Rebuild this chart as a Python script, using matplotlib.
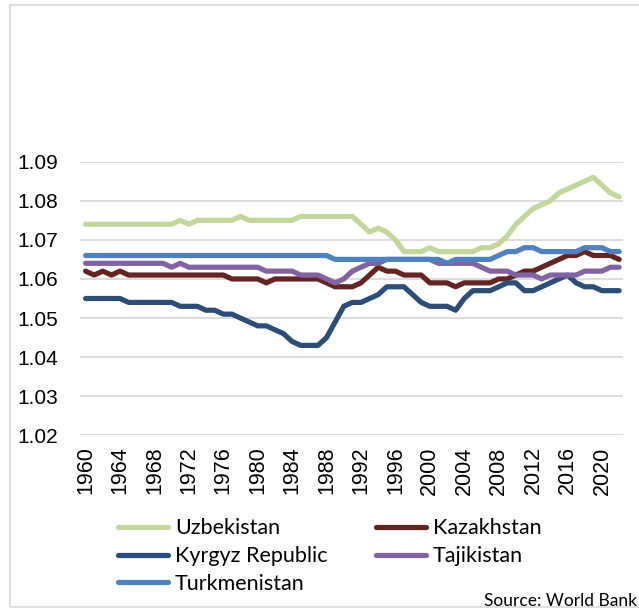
import matplotlib
matplotlib.use("Agg")
import matplotlib.pyplot as plt
from matplotlib.patches import Rectangle
import numpy as np

# 数据 (World Bank, 1960-2022)
years = np.arange(1960, 2023)

uzbekistan = ([1.074] * 11 + [1.075, 1.074] + [1.075] * 5 + [1.076] + [1.075] * 6 + [1.076] * 7 + [1.074]
              + [1.072, 1.073, 1.072, 1.070, 1.067, 1.067, 1.067, 1.068, 1.067, 1.067,
                 1.067, 1.067, 1.067, 1.068, 1.068, 1.069, 1.071, 1.074, 1.076, 1.078,
                 1.079, 1.080, 1.082, 1.083, 1.084, 1.085, 1.086, 1.084, 1.082, 1.081])

kazakhstan = ([1.062, 1.061, 1.062, 1.061, 1.062] + [1.061] * 12 + [1.060] * 4 + [1.059] + [1.060] * 6
              + [1.059] + [1.058] * 3 + [1.059]
              + [1.061, 1.063, 1.062, 1.062, 1.061, 1.061, 1.061]
              + [1.059, 1.059, 1.059, 1.058] + [1.059] * 4
              + [1.060, 1.060, 1.061, 1.062, 1.062]
              + [1.063, 1.064, 1.065, 1.066, 1.066, 1.067, 1.066, 1.066, 1.066, 1.065])

kyrgyz = ([1.055] * 5 + [1.054] * 6 + [1.053] * 3 + [1.052] * 2 + [1.051] * 2
          + [1.050, 1.049, 1.048, 1.048, 1.047, 1.046, 1.044] + [1.043] * 3
          + [1.045, 1.049, 1.053, 1.054, 1.054, 1.055, 1.056, 1.058, 1.058, 1.058]
          + [1.056, 1.054, 1.053, 1.053, 1.053, 1.052]
          + [1.055, 1.057, 1.057, 1.057, 1.058, 1.059, 1.059, 1.057, 1.057]
          + [1.058, 1.059, 1.060, 1.061, 1.059, 1.058, 1.058, 1.057, 1.057, 1.057])

tajikistan = ([1.064] * 10 + [1.063, 1.064] + [1.063] * 9 + [1.062] * 4 + [1.061] * 3
              + [1.060, 1.059, 1.060, 1.062, 1.063, 1.064, 1.064] + [1.065] * 6 + [1.064] * 5
              + [1.063] + [1.062] * 3 + [1.061] * 3 + [1.060] + [1.061] * 4 + [1.062] * 3 + [1.063] * 2)

turkmenistan = ([1.066] * 29 + [1.065] * 13 + [1.064] + [1.065] * 5
                + [1.066, 1.067, 1.067, 1.068, 1.068, 1.067, 1.067, 1.067, 1.067, 1.067,
                   1.068, 1.068, 1.068, 1.067, 1.067])

series = [
    ("Uzbekistan", uzbekistan, "#C3D69B"),
    ("Kazakhstan", kazakhstan, "#632523"),
    ("Kyrgyz Republic", kyrgyz, "#2C4D75"),
    ("Tajikistan", tajikistan, "#8064A2"),
    ("Turkmenistan", turkmenistan, "#4F81BD"),
]

W, H = 639, 613
fig = plt.figure(figsize=(W / 100, H / 100), dpi=100)

# 外框
fig.patches.append(Rectangle((10 / W, 1 - 607 / H), 1.0, (607 - 5) / H,
                             transform=fig.transFigure, fill=False,
                             edgecolor="#D9D9D9", linewidth=1.2))

ax = fig.add_axes([80 / W, 1 - 435.3 / H, 543 / W, (435.3 - 161.7) / H])

lines = {}
for name, vals, color in series:
    (ln,) = ax.plot(years, vals, color=color, lw=3.75,
                    solid_capstyle="round", solid_joinstyle="round", label=name)
    lines[name] = ln

ax.set_ylim(1.02, 1.09)
ax.set_xlim(1959.35, 2022.45)
ax.set_yticks(np.arange(1.02, 1.0901, 0.01))
ax.set_yticklabels([f"{v:.2f}" for v in np.arange(1.02, 1.0901, 0.01)])
ax.set_xticks(years[::4])
ax.set_xticklabels([str(y) for y in years[::4]], rotation=90)

for lab in ax.get_yticklabels():
    lab.set_family("Liberation Sans")
    lab.set_fontsize(15)
for lab in ax.get_xticklabels():
    lab.set_family("Liberation Sans")
    lab.set_fontsize(15.5)
ax.tick_params(axis="y", length=0, pad=16)
ax.tick_params(axis="x", length=0, pad=8)

ax.grid(axis="y", color="#D9D9D9", lw=1.3)
ax.set_axisbelow(True)
for s in ax.spines.values():
    s.set_visible(False)

# 图例: 两列手动放置
leg_kw = dict(frameon=False, prop={"family": "Lato", "size": 15.5},
              handlelength=2.32, handletextpad=0.34, labelspacing=0.35,
              borderpad=0, borderaxespad=0, loc="upper left")
leg1 = fig.legend([lines[n] for n in ["Uzbekistan", "Kyrgyz Republic", "Turkmenistan"]],
                  ["Uzbekistan", "Kyrgyz Republic", "Turkmenistan"],
                  bbox_to_anchor=(117.6 / W, 1 - 518.5 / H), **leg_kw)
leg2 = fig.legend([lines[n] for n in ["Kazakhstan", "Tajikistan"]],
                  ["Kazakhstan", "Tajikistan"],
                  bbox_to_anchor=(375.6 / W, 1 - 518.5 / H), **leg_kw)

fig.text(637 / W, 1 - 601 / H, "Source: World Bank", family="Lato", fontsize=12.5,
         va="center", ha="right")

fig.savefig("out.png", dpi=100)
